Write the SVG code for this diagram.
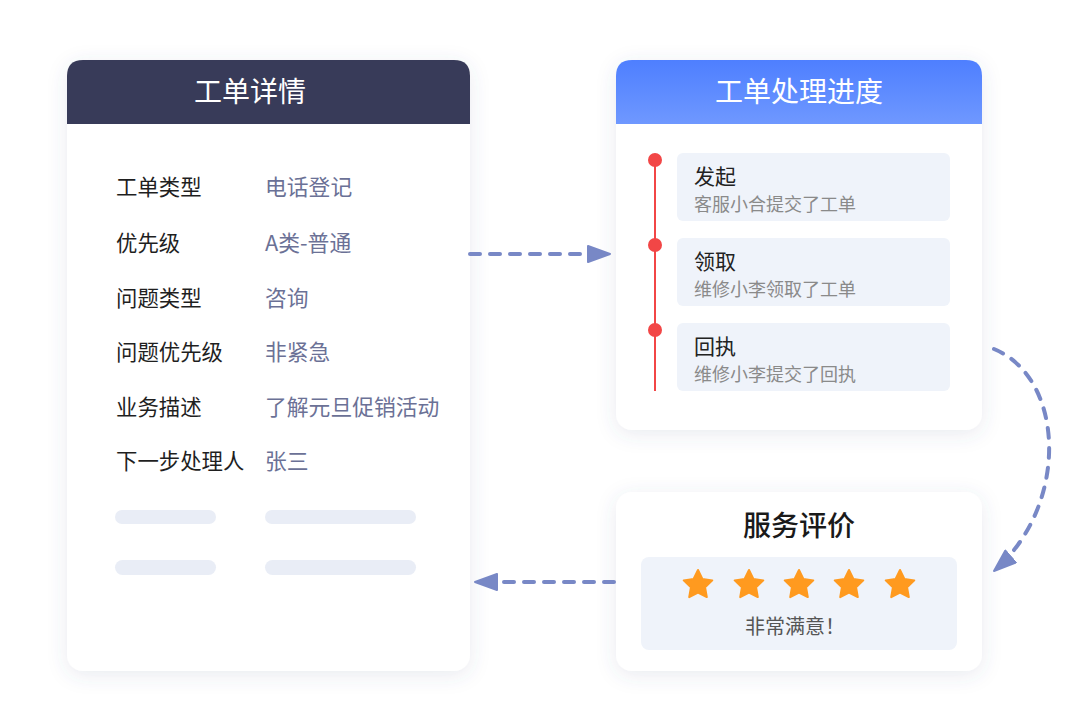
<svg xmlns="http://www.w3.org/2000/svg" width="1080" height="726" viewBox="0 0 1080 726">
<defs>
<filter id="sh" x="-20%" y="-20%" width="140%" height="140%">
<feDropShadow dx="0" dy="4" stdDeviation="10" flood-color="#4a5680" flood-opacity="0.12"/>
</filter>
<linearGradient id="bg" x1="0" y1="0" x2="0" y2="1">
<stop offset="0" stop-color="#4E7FFF"/>
<stop offset="1" stop-color="#6F98FF"/>
</linearGradient>
<marker id="arr" viewBox="0 0 24 18" refX="23" refY="9" markerWidth="24" markerHeight="18" orient="auto" markerUnits="userSpaceOnUse">
<path d="M1,1 L23,9 L1,17 z" fill="#7888C6" stroke="#7888C6" stroke-width="2" stroke-linejoin="round"/>
</marker>
<path id="star" d="M0,-15 L4.4,-6 L14.3,-4.6 L7.1,2.3 L8.8,12.1 L0,7.5 L-8.8,12.1 L-7.1,2.3 L-14.3,-4.6 L-4.4,-6 Z" fill="#FF9A1F" stroke="#FF9A1F" stroke-width="2" stroke-linejoin="round"/>
</defs>
<style>
text{font-family:"Noto Sans CJK SC","Noto Sans",sans-serif;}
.hd{fill:#fff;font-size:28px;font-weight:400;text-anchor:middle;}
.lb{fill:#1f1f1f;font-size:21.4px;}
.vl{fill:#6B7196;font-size:21.8px;}
.bar{fill:#E9EDF6;}
.tt{fill:#222;font-size:21px;}
.st{fill:#8A8A8A;font-size:18px;}
.box{fill:#EFF3FA;}
.dot{fill:#F24646;}
.con{fill:none;stroke:#7888C6;stroke-width:4;stroke-dasharray:10 10;stroke-linecap:round;}
</style>
<rect width="1080" height="726" fill="#fff"/>

<g id="detail">
<rect x="67" y="60" width="403" height="611" rx="16" fill="#fff" filter="url(#sh)"/>
<path d="M67,124 V76 Q67,60 83,60 H454 Q470,60 470,76 V124 Z" fill="#383B59"/>
<text class="hd" x="250" y="102">工单详情</text>
<text class="lb" x="116" y="195">工单类型</text><text class="vl" x="265" y="195">电话登记</text>
<text class="lb" x="116" y="251">优先级</text><text class="vl" x="265" y="251">A类-普通</text>
<text class="lb" x="116" y="306">问题类型</text><text class="vl" x="265" y="306">咨询</text>
<text class="lb" x="116" y="360">问题优先级</text><text class="vl" x="265" y="360">非紧急</text>
<text class="lb" x="116" y="415">业务描述</text><text class="vl" x="265" y="415">了解元旦促销活动</text>
<text class="lb" x="116" y="469">下一步处理人</text><text class="vl" x="265" y="469">张三</text>
<rect class="bar" x="115" y="510" width="101" height="14" rx="7"/>
<rect class="bar" x="265" y="510" width="151" height="14" rx="7"/>
<rect class="bar" x="115" y="560" width="101" height="15" rx="7.5"/>
<rect class="bar" x="265" y="560" width="151" height="15" rx="7.5"/>
</g>

<g id="progress">
<rect x="616" y="60" width="366" height="370" rx="16" fill="#fff" filter="url(#sh)"/>
<path d="M616,124 V76 Q616,60 632,60 H966 Q982,60 982,76 V124 Z" fill="url(#bg)"/>
<text class="hd" x="799" y="102">工单处理进度</text>
<line x1="655" y1="160" x2="655" y2="391" stroke="#F24646" stroke-width="2"/>
<circle class="dot" cx="655" cy="160" r="7"/>
<circle class="dot" cx="655" cy="245" r="7"/>
<circle class="dot" cx="655" cy="330" r="7"/>
<rect class="box" x="677" y="153" width="273" height="68" rx="6"/>
<text class="tt" x="694" y="184">发起</text>
<text class="st" x="694" y="211">客服小合提交了工单</text>
<rect class="box" x="677" y="238" width="273" height="68" rx="6"/>
<text class="tt" x="694" y="269">领取</text>
<text class="st" x="694" y="296">维修小李领取了工单</text>
<rect class="box" x="677" y="323" width="273" height="68" rx="6"/>
<text class="tt" x="694" y="354">回执</text>
<text class="st" x="694" y="381">维修小李提交了回执</text>
</g>

<g id="rating">
<rect x="616" y="492" width="366" height="179" rx="16" fill="#fff" filter="url(#sh)"/>
<text x="799" y="536" text-anchor="middle" font-size="28" font-weight="500" fill="#1a1a1a">服务评价</text>
<rect class="box" x="641" y="557" width="316" height="93" rx="8"/>
<use href="#star" x="698" y="585"/>
<use href="#star" x="749" y="585"/>
<use href="#star" x="799" y="585"/>
<use href="#star" x="849" y="585"/>
<use href="#star" x="900" y="585"/>
<text x="795" y="634" text-anchor="middle" font-size="20" fill="#555">非常满意！</text>
</g>

<g id="connectors">
<path class="con" d="M470,254 H610" marker-end="url(#arr)"/>
<path class="con" d="M994,349 C1065,378 1070,505 994,571" marker-end="url(#arr)"/>
<path class="con" d="M614,582 H475" marker-end="url(#arr)"/>
</g>
</svg>
